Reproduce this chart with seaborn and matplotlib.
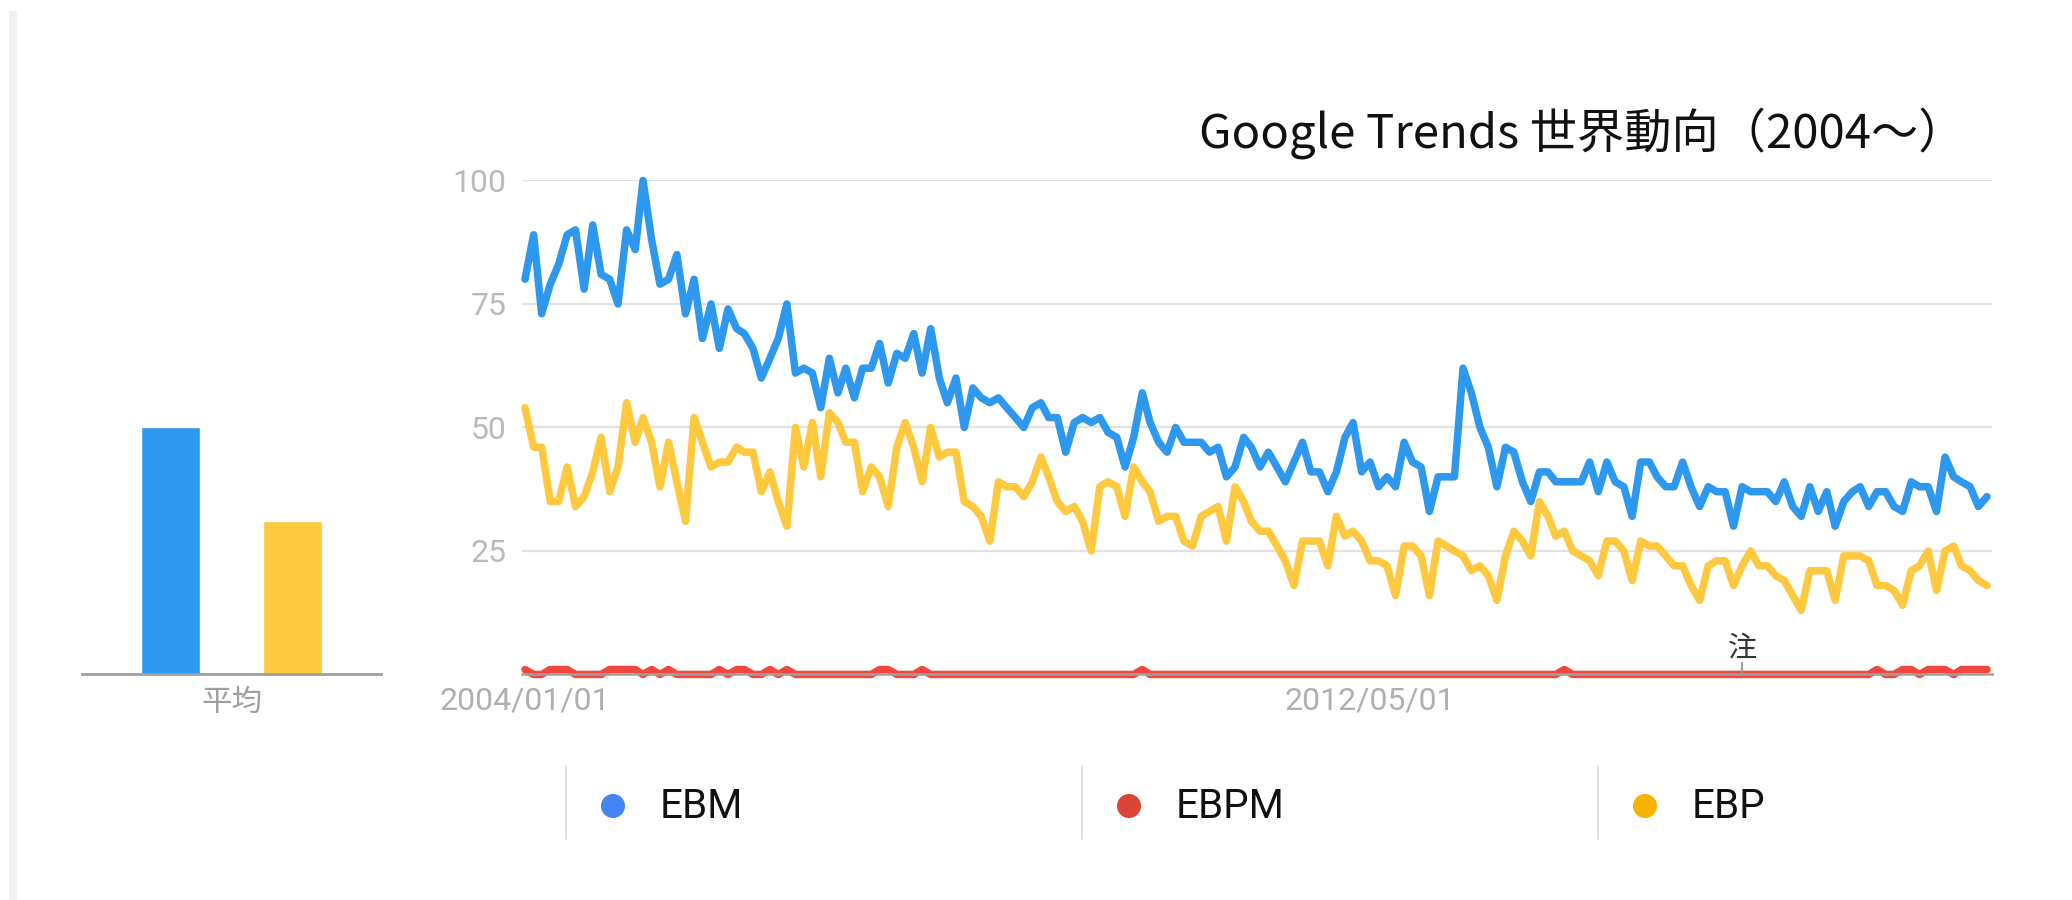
import pandas as pd
import matplotlib
matplotlib.use('Agg')
import matplotlib.pyplot as plt
from matplotlib.patches import Rectangle
import seaborn as sns

# monthly Google Trends values, 2004/01 .. 2018/06
start_month = '2004-01-01'
terms = ['EBM', 'EBPM', 'EBP']

ebm = [80, 89, 73, 79, 83, 89, 90, 78, 91, 81,
       80, 75, 90, 86, 100, 88, 79, 80, 85, 73,
       80, 68, 75, 66, 74, 70, 69, 66, 60, 64,
       68, 75, 61, 62, 61, 54, 64, 57, 62, 56,
       62, 62, 67, 59, 65, 64, 69, 61, 70, 60,
       55, 60, 50, 58, 56, 55, 56, 54, 52, 50,
       54, 55, 52, 52, 45, 51, 52, 51, 52, 49,
       48, 42, 48, 57, 51, 47, 45, 50, 47, 47,
       47, 45, 46, 40, 42, 48, 46, 42, 45, 42,
       39, 43, 47, 41, 41, 37, 41, 48, 51, 41,
       43, 38, 40, 38, 47, 43, 42, 33, 40, 40,
       40, 62, 57, 50, 46, 38, 46, 45, 39, 35,
       41, 41, 39, 39, 39, 39, 43, 37, 43, 39,
       38, 32, 43, 43, 40, 38, 38, 43, 38, 34,
       38, 37, 37, 30, 38, 37, 37, 37, 35, 39,
       34, 32, 38, 33, 37, 30, 35, 37, 38, 34,
       37, 37, 34, 33, 39, 38, 38, 33, 44, 40,
       39, 38, 34, 36]

ebpm = [1, 0, 0, 1, 1, 1, 0, 0, 0, 0,
        1, 1, 1, 1, 0, 1, 0, 1, 0, 0,
        0, 0, 0, 1, 0, 1, 1, 0, 0, 1,
        0, 1, 0, 0, 0, 0, 0, 0, 0, 0,
        0, 0, 1, 1, 0, 0, 0, 1, 0, 0,
        0, 0, 0, 0, 0, 0, 0, 0, 0, 0,
        0, 0, 0, 0, 0, 0, 0, 0, 0, 0,
        0, 0, 0, 1, 0, 0, 0, 0, 0, 0,
        0, 0, 0, 0, 0, 0, 0, 0, 0, 0,
        0, 0, 0, 0, 0, 0, 0, 0, 0, 0,
        0, 0, 0, 0, 0, 0, 0, 0, 0, 0,
        0, 0, 0, 0, 0, 0, 0, 0, 0, 0,
        0, 0, 0, 1, 0, 0, 0, 0, 0, 0,
        0, 0, 0, 0, 0, 0, 0, 0, 0, 0,
        0, 0, 0, 0, 0, 0, 0, 0, 0, 0,
        0, 0, 0, 0, 0, 0, 0, 0, 0, 0,
        1, 0, 0, 1, 1, 0, 1, 1, 1, 0,
        1, 1, 1, 1]

ebp = [54, 46, 46, 35, 35, 42, 34, 36, 41, 48,
       37, 42, 55, 47, 52, 47, 38, 47, 39, 31,
       52, 47, 42, 43, 43, 46, 45, 45, 37, 41,
       35, 30, 50, 42, 51, 40, 53, 51, 47, 47,
       37, 42, 40, 34, 46, 51, 46, 39, 50, 44,
       45, 45, 35, 34, 32, 27, 39, 38, 38, 36,
       39, 44, 40, 35, 33, 34, 31, 25, 38, 39,
       38, 32, 42, 39, 37, 31, 32, 32, 27, 26,
       32, 33, 34, 27, 38, 35, 31, 29, 29, 26,
       23, 18, 27, 27, 27, 22, 32, 28, 29, 27,
       23, 23, 22, 16, 26, 26, 24, 16, 27, 26,
       25, 24, 21, 22, 20, 15, 24, 29, 27, 24,
       35, 32, 28, 29, 25, 24, 23, 20, 27, 27,
       25, 19, 27, 26, 26, 24, 22, 22, 18, 15,
       22, 23, 23, 18, 22, 25, 22, 22, 20, 19,
       16, 13, 21, 21, 21, 15, 24, 24, 24, 23,
       18, 18, 17, 14, 21, 22, 25, 17, 25, 26,
       22, 21, 19, 18]

# averages (left bar panel)
avg_values = [50, 0, 31]

x_tick_dates = ['2004-01-01', '2012-05-01']
x_tick_labels = ['2004/01/01', '2012/05/01']
y_ticks = [25, 50, 75, 100]
note_date = '2016-01-01'
title = 'Google Trends 世界動向（2004〜）'

line_colors = {'EBM': '#2d98ee', 'EBPM': '#f2473c', 'EBP': '#fec83f'}
dot_colors = ['#4285f4', '#db4437', '#f4b400']

months = pd.date_range(start_month, periods=len(ebm), freq='MS')
df = pd.DataFrame({
    'month': list(months) * 3,
    'value': ebm + ebpm + ebp,
    'term': ['EBM'] * len(ebm) + ['EBPM'] * len(ebpm) + ['EBP'] * len(ebp),
})

sns.set_theme(style='white')
plt.rcParams['font.family'] = ['Roboto', 'Noto Sans CJK JP', 'DejaVu Sans']
cjk = ['Noto Sans CJK JP', 'DejaVu Sans']

fig = plt.figure(figsize=(20.72, 9), dpi=100)
ax = fig.add_axes([0.2519, 0.2506, 0.7095, 0.5489])
ax_bar = fig.add_axes([0.0396, 0.2506, 0.1443, 0.5489])

# main trend lines
sns.lineplot(data=df, x='month', y='value', hue='term', hue_order=terms,
             palette=line_colors, linewidth=5.4, legend=False, ax=ax,
             clip_on=False)
ax.set_ylim(0, 100)
ax.set_xlim(pd.Timestamp('2003-12-21'), pd.Timestamp('2018-06-19'))
ax.set_yticks(y_ticks)
ax.set_xticks([pd.Timestamp(d) for d in x_tick_dates])
ax.set_xticklabels(x_tick_labels)
ax.grid(axis='y', color='#e2e2e2', linewidth=1.6)
ax.grid(axis='x', visible=False)
ax.set_axisbelow(True)
for s in ['top', 'right', 'left']:
    ax.spines[s].set_visible(False)
ax.spines['bottom'].set_color('#a0a0a0')
ax.spines['bottom'].set_linewidth(1.8)
ax.tick_params(axis='y', length=0, labelsize=23, labelcolor='#bababa', pad=11)
ax.tick_params(axis='x', length=0, labelsize=23, labelcolor='#b0b0b0', pad=9)
ax.set_xlabel('')
ax.set_ylabel('')

# note marker
nd = pd.Timestamp(note_date)
ax.plot([nd, nd], [0, 2.4], color='#9a9a9a', linewidth=1.5, zorder=6, clip_on=False)
ax.text(nd, 2.0, '注', ha='center', va='bottom', fontsize=21,
        color='#333333', family=cjk)

# average bars
sns.barplot(x=terms, y=avg_values, hue=terms, palette=line_colors,
            width=0.957, saturation=1, legend=False, ax=ax_bar)
ax_bar.set_xlim(-1.45, 3.45)
ax_bar.set_ylim(0, 100)
ax_bar.set_yticks([])
ax_bar.set_xticks([1])
ax_bar.set_xticklabels(['平均'], family=cjk)
for s in ['top', 'right', 'left']:
    ax_bar.spines[s].set_visible(False)
ax_bar.spines['bottom'].set_color('#9e9e9e')
ax_bar.spines['bottom'].set_linewidth(2)
ax_bar.tick_params(axis='x', length=0, labelsize=22, labelcolor='#a0a0a0', pad=9)
ax_bar.set_xlabel('')
ax_bar.set_ylabel('')

# title
fig.text(0.9484, 0.852, title, ha='right', va='center', fontsize=34,
         color='#111111', family=cjk)

# overlay for the legend strip and left border
ov = fig.add_axes([0, 0, 1, 1], zorder=-1)
ov.set_xlim(0, 2072)
ov.set_ylim(900, 0)
ov.axis('off')
ov.add_patch(Rectangle((9, 11), 8, 889, color='#f0f0f0', lw=0))
leg_x = [566, 1082, 1598]
for x0, name, c in zip(leg_x, terms, dot_colors):
    ov.plot([x0, x0], [766, 839], color='#dcdcdc', linewidth=1.3)
    ov.scatter([x0 + 47], [806], s=300, color=c, edgecolors='none')
    ov.text(x0 + 94, 806, name, va='center', ha='left', fontsize=29,
            color='#111111')

fig.savefig('out.png', dpi=100)
